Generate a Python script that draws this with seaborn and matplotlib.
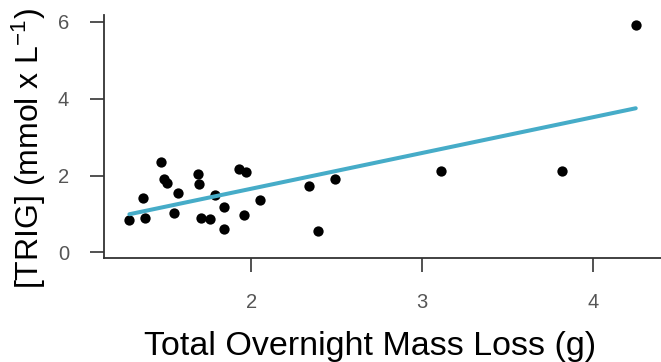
import numpy as np
import pandas as pd
import matplotlib
matplotlib.use('Agg')
import matplotlib.pyplot as plt
import seaborn as sns

# values
mass_loss = [1.286, 1.377, 1.367, 1.472, 1.486, 1.509, 1.568, 1.547, 1.687,
             1.695, 1.703, 1.760, 1.789, 1.838, 1.838, 1.926, 1.971, 1.957,
             2.049, 2.340, 2.489, 2.389, 3.110, 3.822, 4.252]
trig = [0.84, 0.90, 1.41, 2.35, 1.90, 1.81, 1.55, 1.03, 2.03,
        1.78, 0.90, 0.875, 1.485, 1.17, 0.615, 2.18, 2.09, 0.97,
        1.37, 1.73, 1.91, 0.56, 2.12, 2.11, 5.92]
x_ticks = [2, 3, 4]
y_ticks = [0, 2, 4, 6]

df = pd.DataFrame({'mass': mass_loss, 'trig': trig})

sns.set_style('ticks')
plt.rcParams['font.family'] = ['Liberation Sans', 'DejaVu Sans']
plt.rcParams['mathtext.fontset'] = 'custom'
plt.rcParams['mathtext.rm'] = 'Liberation Sans'
plt.rcParams['mathtext.it'] = 'Liberation Sans'

fig = plt.figure(figsize=(6.61, 3.62), dpi=100)
ax = fig.add_axes([0.157, 0.2865, 0.843, 0.672])

sns.regplot(x='mass', y='trig', data=df, ci=None, ax=ax,
            scatter_kws={'s': 55, 'color': 'black', 'linewidths': 0,
                         'alpha': 1},
            line_kws={'color': '#46ACC8', 'linewidth': 2.9})

ax.set_xlim(1.136, 4.40)
ax.set_ylim(-0.156, 6.18)
ax.set_xticks(x_ticks)
ax.set_yticks(y_ticks)

for side in ['top', 'right']:
    ax.spines[side].set_visible(False)
for side in ['left', 'bottom']:
    ax.spines[side].set_linewidth(1.3)
    ax.spines[side].set_color('#333333')

ax.tick_params(axis='both', length=10, width=1.2, color='#333333',
               labelsize=14.5, labelcolor='#555555', pad=15)

ax.set_xlabel('Total Overnight Mass Loss (g)', fontsize=24.5,
              color='black')
ax.set_ylabel(r'[TRIG] (mmol x L$^{-1}$)', fontsize=23,
              color='black')
ax.xaxis.set_label_coords(0.478, -0.30)
ax.yaxis.set_label_coords(-0.10, 0.45)

fig.savefig('out.png', dpi=100)
